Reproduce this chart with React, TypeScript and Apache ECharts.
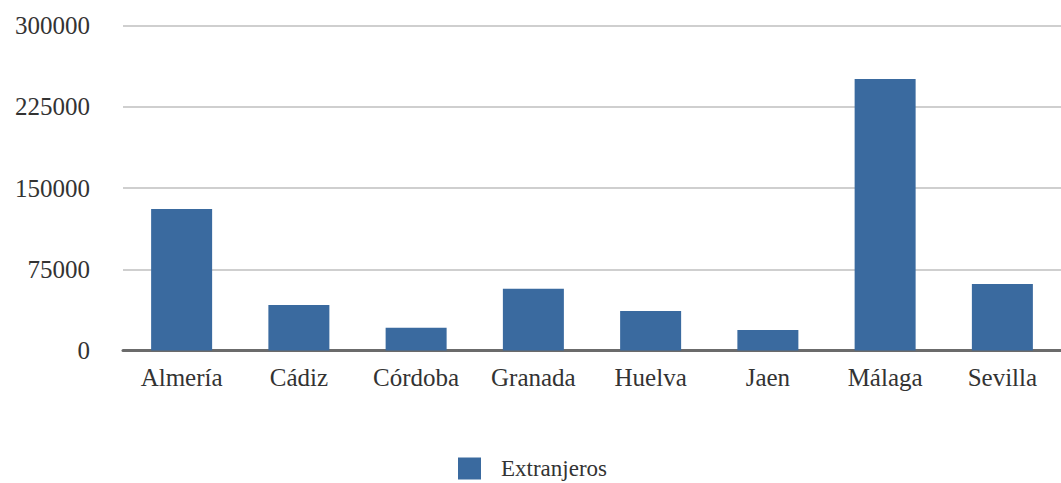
import React, { useEffect, useRef } from "react";
import * as echarts from "echarts";

const categories = ["Almería", "Cádiz", "Córdoba", "Granada", "Huelva", "Jaen", "Málaga", "Sevilla"];
const extranjeros = [130600, 42000, 21000, 57000, 36500, 18900, 250600, 61400];
const seriesName = "Extranjeros";
const yMin = 0;
const yMax = 300000;
const yInterval = 75000;

export default function App() {
  const ref = useRef<HTMLDivElement>(null);
  useEffect(() => {
    if (!ref.current) return;
    const chart = echarts.init(ref.current, null, { renderer: "svg" });
    const font = "Liberation Serif";
    chart.setOption({
      animation: false,
      backgroundColor: "#ffffff",
      grid: { left: 123, top: 25.5, width: 947, height: 325, containLabel: false },
      legend: {
        data: [seriesName],
        left: 458,
        top: 457,
        padding: 0,
        itemWidth: 23,
        itemHeight: 22,
        icon: "rect",
        textStyle: {
          fontFamily: font,
          fontSize: 23,
          lineHeight: 22,
          color: "#333333",
          padding: [0, 0, 0, 15],
        },
      },
      xAxis: {
        type: "category",
        data: categories,
        axisLine: { show: true, lineStyle: { color: "#6b6b6b", width: 3 } },
        axisTick: { show: false },
        axisLabel: { fontFamily: font, fontSize: 25, color: "#333333", margin: 14 },
      },
      yAxis: {
        type: "value",
        min: yMin,
        max: yMax,
        interval: yInterval,
        axisLine: { show: false },
        axisTick: { show: false },
        axisLabel: {
          fontFamily: font,
          fontSize: 25,
          color: "#333333",
          margin: 33,
          formatter: (v: number) => String(v),
        },
        splitLine: { show: true, lineStyle: { color: "#cfcfcf", width: 2 } },
      },
      series: [
        {
          name: seriesName,
          type: "bar",
          data: extranjeros,
          barWidth: 61,
          itemStyle: { color: "#3a6a9f" },
        },
      ],
    });
    return () => chart.dispose();
  }, []);
  return (
    <div
      ref={ref}
      style={{ position: "fixed", left: 0, top: 0, width: 1061, height: 483, background: "#fff" }}
    />
  );
}
